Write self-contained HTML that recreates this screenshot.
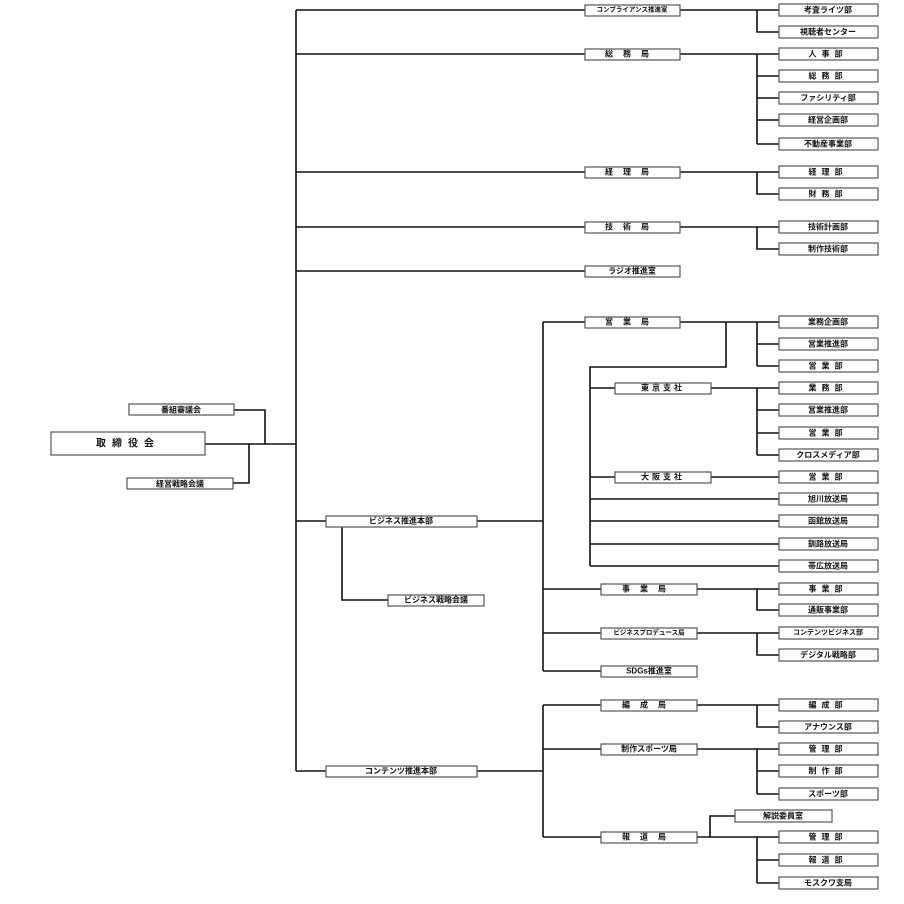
<!DOCTYPE html>
<html><head><meta charset="utf-8"><style>
html,body{margin:0;padding:0;background:#fff;width:904px;height:904px;overflow:hidden}
svg text{font-family:"Liberation Sans","Noto Sans CJK JP",sans-serif;font-size:8px;fill:#111;text-anchor:middle;dominant-baseline:central;font-weight:bold}
</style></head><body>
<svg width="904" height="904" viewBox="0 0 904 904" xmlns="http://www.w3.org/2000/svg">
<g stroke="#111" stroke-width="1.6" fill="none">
<path d="M205 444H296M234 410H265V444M233 483H249V444"/>
<path d="M296 10V771"/>
<path d="M296 10H585M296 54H585M296 172H585M296 227H585M296 271H585M296 521H326M296 771H326"/>
<path d="M680 10H779M757 10V32H779"/>
<path d="M680 54H779M757 54V144M757 76H779M757 98H779M757 120H779M757 144H779"/>
<path d="M680 172H779M757 172V194H779"/>
<path d="M680 227H779M757 227V249H779"/>
<path d="M477 521H543M543 322V671M543 322H585M543 589H601M543 633H601M543 671H601"/>
<path d="M342 526V600H388"/>
<path d="M680 322H779M757 322V366M757 344H779M757 366H779M726 322V367H590V566"/>
<path d="M590 388H615M711 388H779M757 388V455M757 410H779M757 433H779M757 455H779"/>
<path d="M590 477H615M711 477H779M590 499H779M590 521H779M590 544H779M590 566H779"/>
<path d="M697 589H779M757 589V610H779M697 633H779M757 633V655H779"/>
<path d="M477 771H543M543 705V837M543 705H601M543 749H601M543 837H601"/>
<path d="M697 705H779M757 705V727H779"/>
<path d="M697 749H779M757 749V794M757 771H779M757 794H779"/>
<path d="M697 837H779M710 837V816H735M757 837V883M757 860H779M757 883H779"/>
</g>
<g fill="#fff" stroke="#555" stroke-width="1.2">
<rect x="51" y="432" width="154" height="23"/>
<rect x="129" y="404" width="105" height="11"/>
<rect x="127" y="478" width="106" height="11"/>
<rect x="585" y="5" width="95" height="11"/>
<rect x="585" y="49" width="95" height="11"/>
<rect x="585" y="167" width="95" height="11"/>
<rect x="585" y="222" width="95" height="11"/>
<rect x="585" y="266" width="95" height="11"/>
<rect x="326" y="516" width="151" height="11"/>
<rect x="388" y="595" width="96" height="11"/>
<rect x="326" y="766" width="151" height="11"/>
<rect x="585" y="317" width="95" height="11"/>
<rect x="615" y="383" width="96" height="11"/>
<rect x="615" y="472" width="96" height="11"/>
<rect x="601" y="584" width="96" height="11"/>
<rect x="601" y="628" width="96" height="11"/>
<rect x="601" y="666" width="96" height="11"/>
<rect x="601" y="700" width="96" height="11"/>
<rect x="601" y="744" width="96" height="11"/>
<rect x="601" y="832" width="96" height="11"/>
<rect x="735" y="810" width="97" height="12"/>
<rect x="779" y="4" width="99" height="12"/>
<rect x="779" y="26" width="99" height="12"/>
<rect x="779" y="48" width="99" height="12"/>
<rect x="779" y="70" width="99" height="12"/>
<rect x="779" y="92" width="99" height="12"/>
<rect x="779" y="114" width="99" height="12"/>
<rect x="779" y="138" width="99" height="12"/>
<rect x="779" y="166" width="99" height="12"/>
<rect x="779" y="188" width="99" height="12"/>
<rect x="779" y="221" width="99" height="12"/>
<rect x="779" y="243" width="99" height="12"/>
<rect x="779" y="316" width="99" height="12"/>
<rect x="779" y="338" width="99" height="12"/>
<rect x="779" y="360" width="99" height="12"/>
<rect x="779" y="382" width="99" height="12"/>
<rect x="779" y="404" width="99" height="12"/>
<rect x="779" y="427" width="99" height="12"/>
<rect x="779" y="449" width="99" height="12"/>
<rect x="779" y="471" width="99" height="12"/>
<rect x="779" y="493" width="99" height="12"/>
<rect x="779" y="515" width="99" height="12"/>
<rect x="779" y="538" width="99" height="12"/>
<rect x="779" y="560" width="99" height="12"/>
<rect x="779" y="583" width="99" height="12"/>
<rect x="779" y="604" width="99" height="12"/>
<rect x="779" y="627" width="99" height="12"/>
<rect x="779" y="649" width="99" height="12"/>
<rect x="779" y="699" width="99" height="12"/>
<rect x="779" y="721" width="99" height="12"/>
<rect x="779" y="743" width="99" height="12"/>
<rect x="779" y="765" width="99" height="12"/>
<rect x="779" y="788" width="99" height="12"/>
<rect x="779" y="831" width="99" height="12"/>
<rect x="779" y="854" width="99" height="12"/>
<rect x="779" y="877" width="99" height="12"/>
</g>
<g>
<text x="128" y="444" style="font-size:10px" letter-spacing="6">取締役会</text>
<text x="181" y="410">番組審議会</text>
<text x="180" y="484">経営戦略会議</text>
<text x="632" y="10" style="font-size:6.5px">コンプライアンス推進室</text>
<text x="632" y="54" letter-spacing="10">総務局</text>
<text x="632" y="172" letter-spacing="10">経理局</text>
<text x="632" y="227" letter-spacing="10">技術局</text>
<text x="632" y="271">ラジオ推進室</text>
<text x="401" y="521">ビジネス推進本部</text>
<text x="436" y="600">ビジネス戦略会議</text>
<text x="401" y="771">コンテンツ推進本部</text>
<text x="632" y="322" letter-spacing="10">営業局</text>
<text x="663" y="388" letter-spacing="3">東京支社</text>
<text x="663" y="477" letter-spacing="3">大阪支社</text>
<text x="649" y="589" letter-spacing="10">事業局</text>
<text x="649" y="633" style="font-size:6.5px">ビジネスプロデュース局</text>
<text x="649" y="671">SDGs推進室</text>
<text x="649" y="705" letter-spacing="10">編成局</text>
<text x="649" y="749">制作スポーツ局</text>
<text x="649" y="837" letter-spacing="10">報道局</text>
<text x="783" y="816">解説委員室</text>
<text x="828" y="10">考査ライツ部</text>
<text x="828" y="32">視聴者センター</text>
<text x="828" y="54" letter-spacing="5">人事部</text>
<text x="828" y="76" letter-spacing="5">総務部</text>
<text x="828" y="98">ファシリティ部</text>
<text x="828" y="120">経営企画部</text>
<text x="828" y="144">不動産事業部</text>
<text x="828" y="172" letter-spacing="5">経理部</text>
<text x="828" y="194" letter-spacing="5">財務部</text>
<text x="828" y="227">技術計画部</text>
<text x="828" y="249">制作技術部</text>
<text x="828" y="322">業務企画部</text>
<text x="828" y="344">営業推進部</text>
<text x="828" y="366" letter-spacing="5">営業部</text>
<text x="828" y="388" letter-spacing="5">業務部</text>
<text x="828" y="410">営業推進部</text>
<text x="828" y="433" letter-spacing="5">営業部</text>
<text x="828" y="455">クロスメディア部</text>
<text x="828" y="477" letter-spacing="5">営業部</text>
<text x="828" y="499">旭川放送局</text>
<text x="828" y="521">函館放送局</text>
<text x="828" y="544">釧路放送局</text>
<text x="828" y="566">帯広放送局</text>
<text x="828" y="589" letter-spacing="5">事業部</text>
<text x="828" y="610">通販事業部</text>
<text x="828" y="633" style="font-size:7px">コンテンツビジネス部</text>
<text x="828" y="655">デジタル戦略部</text>
<text x="828" y="705" letter-spacing="5">編成部</text>
<text x="828" y="727">アナウンス部</text>
<text x="828" y="749" letter-spacing="5">管理部</text>
<text x="828" y="771" letter-spacing="5">制作部</text>
<text x="828" y="794">スポーツ部</text>
<text x="828" y="837" letter-spacing="5">管理部</text>
<text x="828" y="860" letter-spacing="5">報道部</text>
<text x="828" y="883">モスクワ支局</text>
</g>
</svg>
</body></html>
